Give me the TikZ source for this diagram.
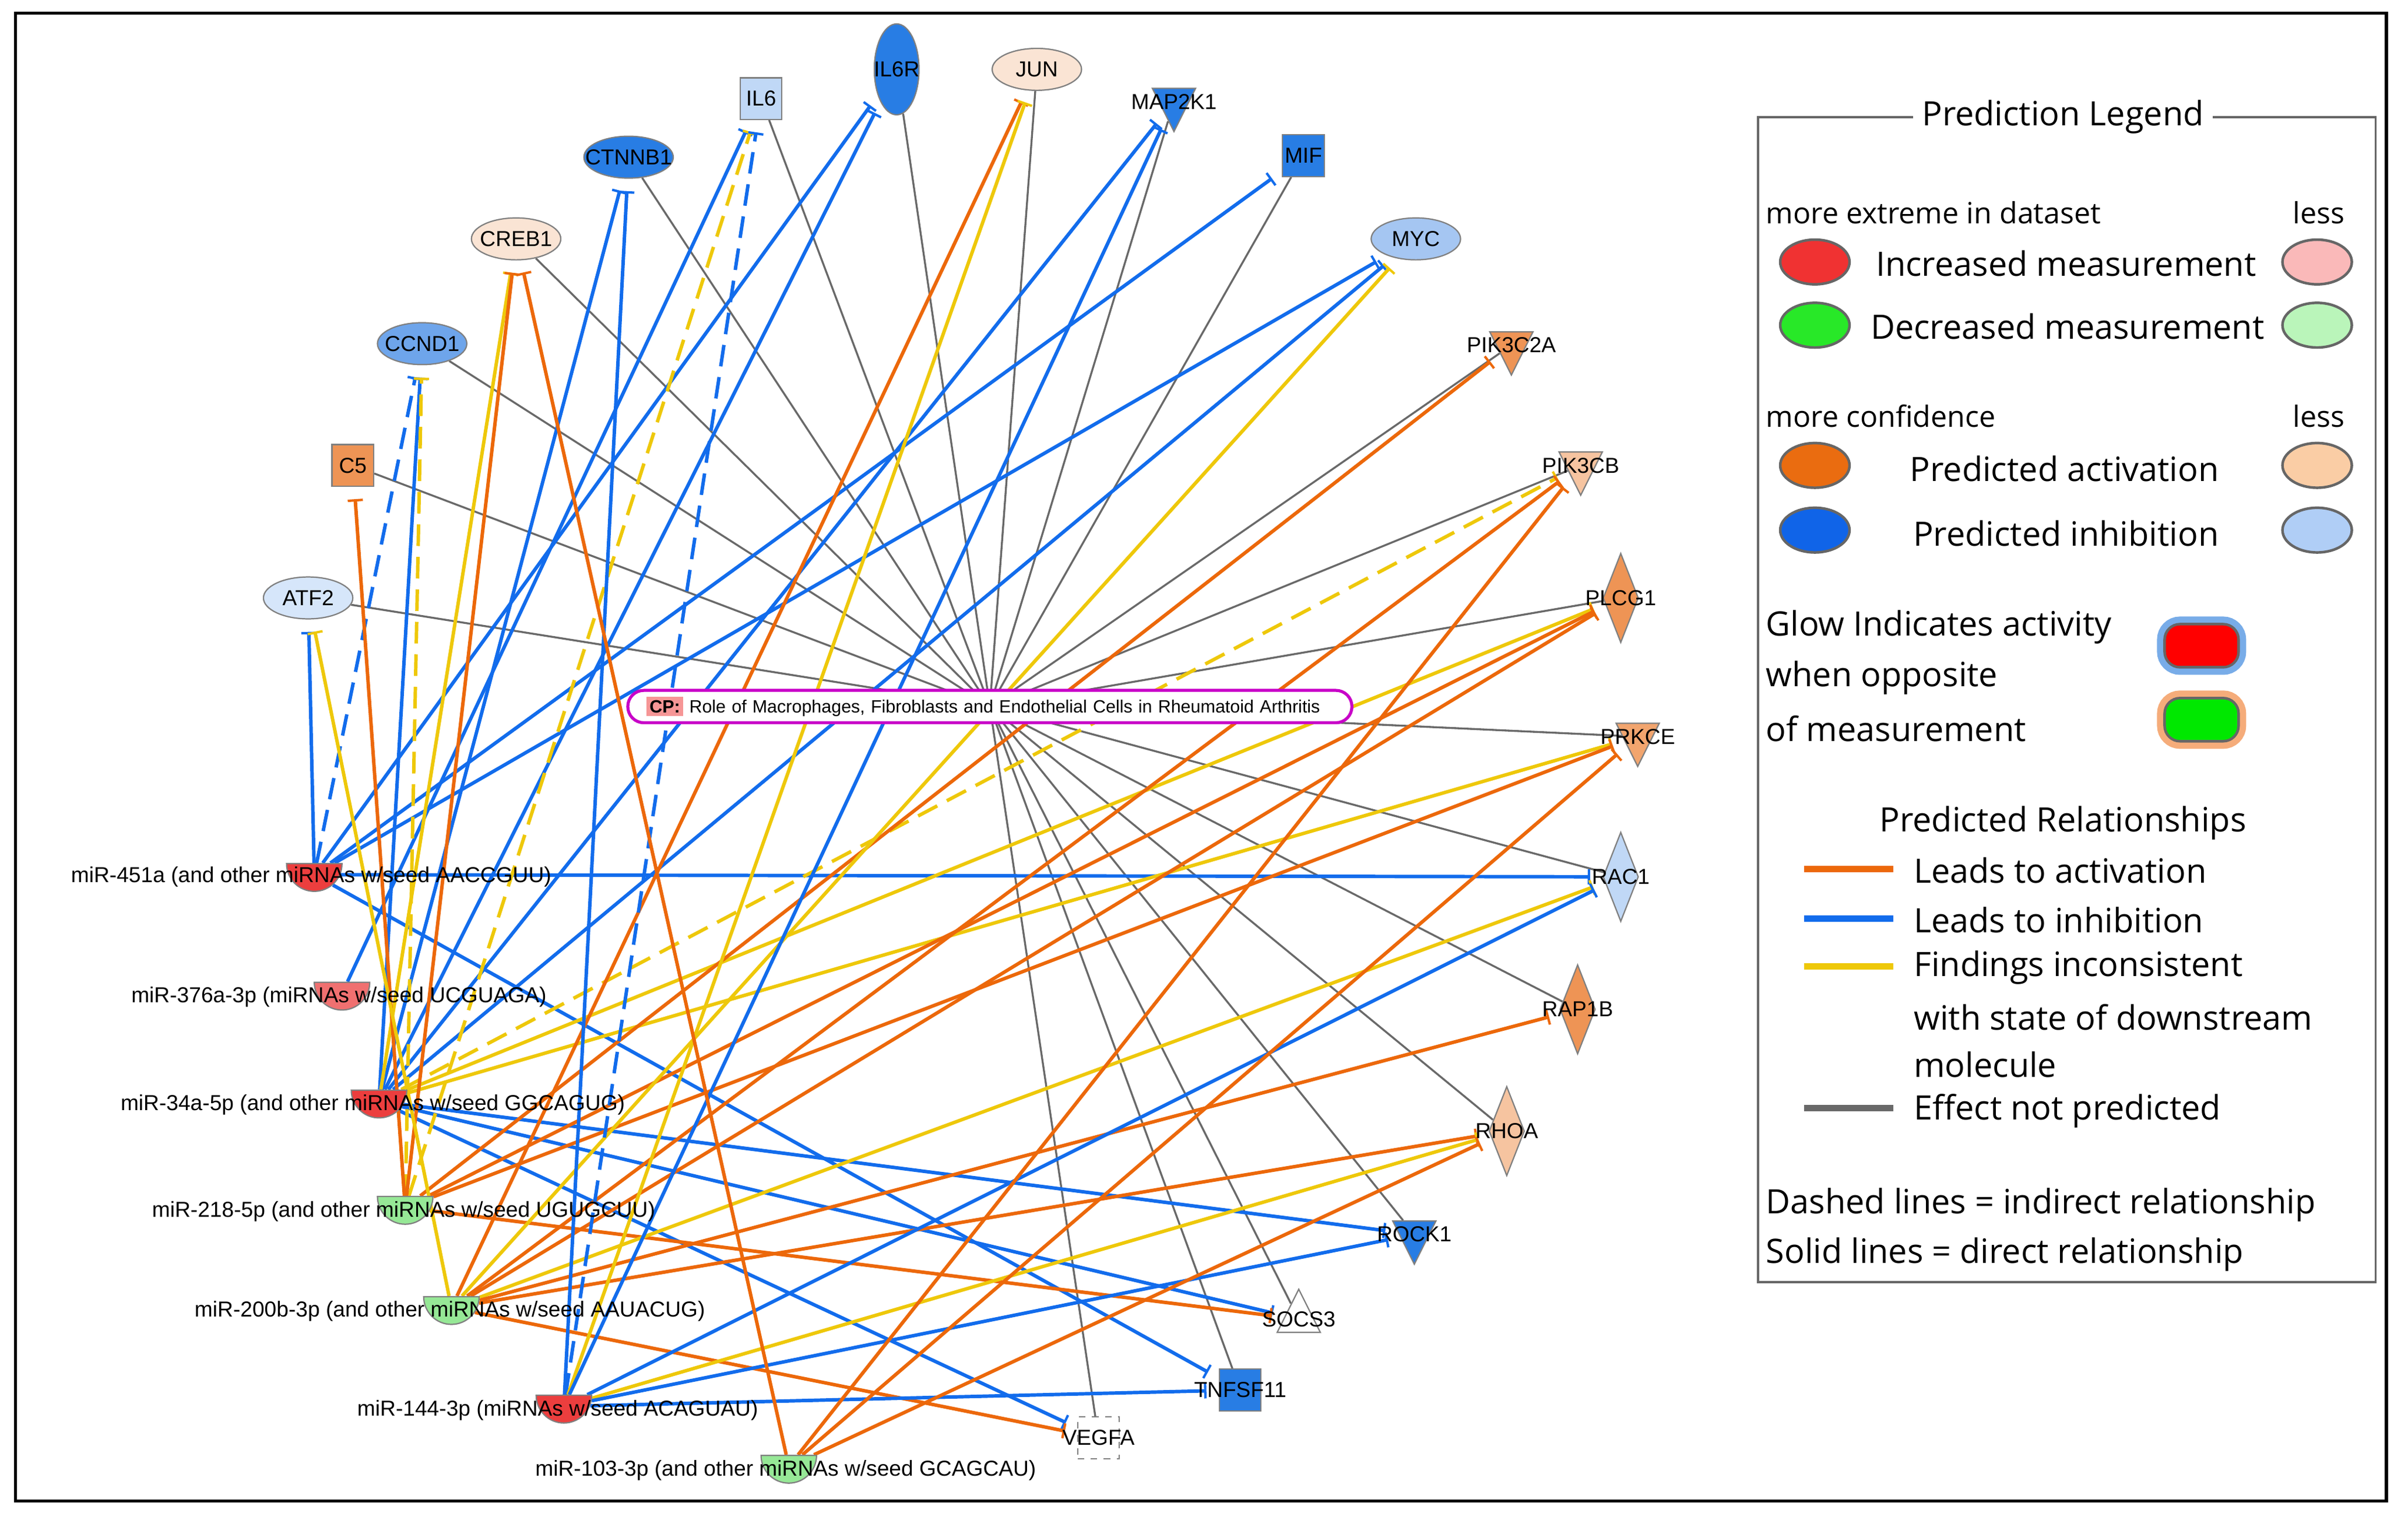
\documentclass[tikz,border=0pt]{standalone}
\usepackage{fontspec}
\setmainfont{Liberation Sans}
\newfontfamily\legfont{Open Sans}
\usetikzlibrary{shapes.geometric,arrows.meta,backgrounds}
\definecolor{actline}{RGB}{236,104,10}
\definecolor{inhline}{RGB}{18,108,236}
\definecolor{incline}{RGB}{238,200,10}
\definecolor{noline}{RGB}{105,105,105}
\definecolor{darkblue}{RGB}{40,125,228}
\definecolor{midblue}{RGB}{110,165,235}
\definecolor{paleblue}{RGB}{165,198,242}
\definecolor{lightblue}{RGB}{192,216,246}
\definecolor{iceblue}{RGB}{214,230,250}
\definecolor{darkorange}{RGB}{238,148,85}
\definecolor{midorange}{RGB}{242,165,110}
\definecolor{lightorange}{RGB}{246,196,160}
\definecolor{peach}{RGB}{250,228,212}
\definecolor{mirup}{RGB}{236,62,62}
\definecolor{mirpale}{RGB}{240,112,112}
\definecolor{mirdown}{RGB}{150,232,150}
\definecolor{cpmag}{RGB}{200,0,200}
\definecolor{cppink}{RGB}{246,150,150}

\tikzset{
  gene/.style={draw=gray, line width=0.6pt, inner sep=0pt,
    label={[font=\fontsize{10}{12}\selectfont]center:#1}},
  oval/.style={ellipse, minimum width=14.5mm, minimum height=6.8mm},
  tall/.style={ellipse, minimum width=7.25mm, minimum height=14.75mm},
  sq/.style={rectangle, minimum size=6.75mm},
  tridown/.style={isosceles triangle, isosceles triangle stretches, shape border rotate=-90, minimum width=7mm, minimum height=7mm},
  triup/.style={isosceles triangle, isosceles triangle stretches, shape border rotate=90, minimum width=7mm, minimum height=7mm},
  diam/.style={diamond, minimum width=5.75mm, minimum height=14.5mm},
  mirna/.style={semicircle, shape border rotate=180, anchor=chord center, draw=gray, line width=0.6pt, inner sep=0pt, minimum width=9mm, minimum height=0mm},
  mirtext/.style={inner sep=0pt, font=\fontsize{10}{12}\selectfont},
  cpbox/.style={draw=cpmag, line width=1.4pt, fill=white, rounded corners=2.6mm, minimum height=5.25mm, text width=111.5mm, align=left, inner xsep=3mm, inner ysep=0pt, font=\fontsize{8.2}{9.5}\selectfont},
  act/.style={draw=actline, line width=1.6pt, ->, >={Bar[width=7pt,line width=1.1pt]}, shorten >=2mm},
  inh/.style={draw=inhline, line width=1.6pt, ->, >={Bar[width=7pt,line width=1.1pt]}, shorten >=2mm},
  inc/.style={draw=incline, line width=1.6pt, ->, >={Bar[width=7pt,line width=1.1pt]}, shorten >=2mm},
  indirect/.style={dash pattern=on 10pt off 5pt},
  noeff/.style={draw=noline, line width=0.9pt},
  legtext/.style={inner sep=0pt, font=\legfont\fontsize{15.5}{18}\selectfont},
  legsmall/.style={inner sep=0pt, font=\legfont\fontsize{13.5}{16}\selectfont},
  legball/.style={ellipse, draw=gray!80!black, line width=1.2pt, minimum width=11.25mm, minimum height=7.25mm},
  legglow/.style={rectangle, rounded corners=2.5mm, draw=gray!80!black, line width=1.2pt, minimum width=12mm, minimum height=7mm},
  swatch/.style={line width=3pt}
}

\begin{document}
\begin{tikzpicture}[x=0.25mm,y=-0.25mm]
\useasboundingbox (0,0) rectangle (1563,986);
\draw [line width=1.5pt] (10,8.5) rectangle (1549,974);

% ring of target genes
\node[gene=ATF2, oval, fill=iceblue] (atf2) at (200,388) {};
\node[gene=C5, sq, fill=darkorange] (c5) at (229,302) {};
\node[gene=CCND1, oval, fill=midblue] (ccnd1) at (274,223) {};
\node[gene=CREB1, oval, fill=peach] (creb1) at (335,155) {};
\node[gene=CTNNB1, oval, fill=darkblue] (ctnnb1) at (408,102) {};
\node[gene=IL6, sq, fill=lightblue] (il6) at (494,64) {};
\node[gene=IL6R, tall, fill=darkblue] (il6r) at (582,45) {};
\node[gene=JUN, oval, fill=peach] (jun) at (673,45) {};
\node[gene=MAP2K1, tridown, fill=darkblue] (map2k1) at (762,66) {};
\node[gene=MIF, sq, fill=darkblue] (mif) at (846,101) {};
\node[gene=MYC, oval, fill=paleblue] (myc) at (919,155) {};
\node[gene=PIK3C2A, tridown, fill=darkorange] (pik3c2a) at (981,224) {};
\node[gene=PIK3CB, tridown, fill=lightorange] (pik3cb) at (1026,302) {};
\node[gene=PLCG1, diam, fill=darkorange] (plcg1) at (1052,388) {};
\node[gene=PRKCE, tridown, fill=midorange] (prkce) at (1063,478) {};
\node[gene=RAC1, diam, fill=lightblue] (rac1) at (1052,569) {};
\node[gene=RAP1B, diam, fill=darkorange] (rap1b) at (1024,655) {};
\node[gene=RHOA, diam, fill=lightorange] (rhoa) at (978,734) {};
\node[gene=ROCK1, tridown, fill=darkblue] (rock1) at (918,801) {};
\node[gene=SOCS3, triup, fill=white] (socs3) at (843,856) {};
\node[gene=TNFSF11, sq, fill=darkblue] (tnfsf11) at (805,902) {};
\node[gene=VEGFA, sq, fill=white, dashed] (vegfa) at (713,933) {};

% miRNAs
\node[mirna, fill=mirup] (m451) at (204,560) {};
\node[mirna, fill=mirpale] (m376) at (222,637) {};
\node[mirna, fill=mirup] (m34) at (246,707) {};
\node[mirna, fill=mirdown] (m218) at (263,776) {};
\node[mirna, fill=mirdown] (m200) at (293,841) {};
\node[mirna, fill=mirup] (m144) at (366,905) {};
\node[mirna, fill=mirdown] (m103) at (512,944) {};

% canonical pathway
\node[cpbox] (cp) at (642.5,458.5) {\setlength{\fboxsep}{1.5pt}\colorbox{cppink}{\textbf{CP:}}\ Role of Macrophages, Fibroblasts and Endothelial Cells in Rheumatoid Arthritis};

\begin{scope}[on background layer]
% pathway membership
\draw [noeff] (cp.center) -- (atf2);
\draw [noeff] (cp.center) -- (c5);
\draw [noeff] (cp.center) -- (ccnd1);
\draw [noeff] (cp.center) -- (creb1);
\draw [noeff] (cp.center) -- (ctnnb1);
\draw [noeff] (cp.center) -- (il6);
\draw [noeff] (cp.center) -- (il6r);
\draw [noeff] (cp.center) -- (jun);
\draw [noeff] (cp.center) -- (map2k1);
\draw [noeff] (cp.center) -- (mif);
\draw [noeff] (cp.center) -- (pik3c2a);
\draw [noeff] (cp.center) -- (pik3cb);
\draw [noeff] (cp.center) -- (plcg1);
\draw [noeff] (cp.center) -- (prkce);
\draw [noeff] (cp.center) -- (rac1);
\draw [noeff] (cp.center) -- (rap1b);
\draw [noeff] (cp.center) -- (rhoa);
\draw [noeff] (cp.center) -- (rock1);
\draw [noeff] (cp.center) -- (socs3);
\draw [noeff] (cp.center) -- (tnfsf11);
\draw [noeff] (cp.center) -- (vegfa);
% miR-451a
\draw [inh] (m451) -- (atf2);
\draw [inh, indirect] (m451) -- (ccnd1);
\draw [inh] (m451) -- (il6r);
\draw [inh] (m451) -- (mif);
\draw [inh] (m451) -- (myc);
\draw [inh] (m451) -- (rac1);
\draw [inh] (m451) -- (tnfsf11);
% miR-376a-3p
\draw [inh] (m376) -- (il6);
% miR-34a-5p
\draw [inh] (m34) -- (il6r);
\draw [inh] (m34) -- (ctnnb1);
\draw [inh] (m34) -- (ccnd1);
\draw [inc] (m34) -- (creb1);
\draw [inh] (m34) -- (map2k1);
\draw [inh] (m34) -- (myc);
\draw [inc, indirect] (m34) -- (pik3cb);
\draw [inc] (m34) -- (plcg1);
\draw [inc] (m34) -- (prkce);
\draw [inh] (m34) -- (rock1);
\draw [inh] (m34) -- (socs3);
\draw [inh] (m34) -- (vegfa);
% miR-218-5p
\draw [inc, indirect] (m218) -- (ccnd1);
\draw [inc, indirect] (m218) -- (il6);
\draw [act] (m218) -- (c5);
\draw [act] (m218) -- (creb1);
\draw [act] (m218) -- (pik3c2a);
\draw [act] (m218) -- (plcg1);
\draw [act] (m218) -- (prkce);
\draw [act] (m218) -- (socs3);
% miR-200b-3p
\draw [inc] (m200) -- (atf2);
\draw [inc] (m200) -- (myc);
\draw [act] (m200) -- (jun);
\draw [act] (m200) -- (pik3cb);
\draw [act] (m200) -- (plcg1);
\draw [inc] (m200) -- (rac1);
\draw [act] (m200) -- (rap1b);
\draw [act] (m200) -- (rhoa);
\draw [act] (m200) -- (vegfa);
% miR-144-3p
\draw [inh] (m144) -- (ctnnb1);
\draw [inh, indirect] (m144) -- (il6);
\draw [inc] (m144) -- (jun);
\draw [inh] (m144) -- (map2k1);
\draw [inh] (m144) -- (rac1);
\draw [inc] (m144) -- (rhoa);
\draw [inh] (m144) -- (rock1);
\draw [inh] (m144) -- (tnfsf11);
% miR-103-3p
\draw [act] (m103) -- (creb1);
\draw [act] (m103) -- (pik3cb);
\draw [act] (m103) -- (prkce);
\draw [act] (m103) -- (rhoa);
\end{scope}

\node[mirtext] (m451t) at (202,569) {miR-451a (and other miRNAs w/seed AACCGUU)};
\node[mirtext] (m376t) at (220,647) {miR-376a-3p (miRNAs w/seed UCGUAGA)};
\node[mirtext] (m34t) at (242,717) {miR-34a-5p (and other miRNAs w/seed GGCAGUG)};
\node[mirtext] (m218t) at (262,786) {miR-218-5p (and other miRNAs w/seed UGUGCUU)};
\node[mirtext] (m200t) at (292,851) {miR-200b-3p (and other miRNAs w/seed AAUACUG)};
\node[mirtext] (m144t) at (362,915) {miR-144-3p (miRNAs w/seed ACAGUAU)};
\node[mirtext] (m103t) at (510,954) {miR-103-3p (and other miRNAs w/seed GCAGCAU)};

% legend
\draw [draw=gray!80!black, line width=1pt] (1141,76) rectangle (1542,832);
\node[legtext, fill=white, inner xsep=4pt] (legtitle) at (1339,76) {Prediction Legend};
\node[legsmall, anchor=west] (extreme) at (1146,138) {more extreme in dataset};
\node[legsmall] (less1) at (1505,138) {less};
\node[legball, fill={rgb,255:red,240;green,50;blue,50}] (upball) at (1178,170) {};
\node[legball, fill={rgb,255:red,250;green,185;blue,185}] (upballl) at (1504,170) {};
\node[legtext] (uptext) at (1341,171) {Increased measurement};
\node[legball, fill={rgb,255:red,40;green,232;blue,40}] (dnball) at (1178,211) {};
\node[legball, fill={rgb,255:red,186;green,245;blue,186}] (dnballl) at (1504,211) {};
\node[legtext] (dntext) at (1342,212) {Decreased measurement};
\node[legsmall, anchor=west] (confid) at (1146,270) {more confidence};
\node[legsmall] (less2) at (1505,270) {less};
\node[legball, fill={rgb,255:red,234;green,108;blue,16}] (actball) at (1178,302) {};
\node[legball, fill={rgb,255:red,250;green,205;blue,165}] (actballl) at (1504,302) {};
\node[legtext] (acttext) at (1340,304) {Predicted activation};
\node[legball, fill={rgb,255:red,16;green,100;blue,232}] (inhball) at (1178,344) {};
\node[legball, fill={rgb,255:red,176;green,206;blue,246}] (inhballl) at (1504,344) {};
\node[legtext] (inhtext) at (1341,346) {Predicted inhibition};
\node[legtext, anchor=west] (glow1) at (1146,407) {Glow Indicates activity};
\node[legtext, anchor=west] (glow2) at (1146,440) {when opposite};
\node[legtext, anchor=west] (glow3) at (1146,473) {of measurement};
\node[legglow, fill=red, preaction={draw={rgb,255:red,120;green,172;blue,232}, line width=7pt}] (glowred) at (1429,419) {};
\node[legglow, fill={rgb,255:red,0;green,232;blue,0}, preaction={draw={rgb,255:red,245;green,172;blue,122}, line width=7pt}] (glowgreen) at (1429,467) {};
\node[legtext] (reltitle) at (1339,534) {Predicted Relationships};
\draw [swatch, actline] (1171,564) -- (1229,564);
\draw [swatch, inhline] (1171,596) -- (1229,596);
\draw [swatch, incline] (1171,627) -- (1229,627);
\draw [swatch, noline] (1171,719) -- (1229,719);
\node[legtext, anchor=west] (relact) at (1242,565) {Leads to activation};
\node[legtext, anchor=west] (relinh) at (1242,597) {Leads to inhibition};
\node[legtext, anchor=west] (relinc) at (1242,628) {Findings inconsistent};
\node[legtext, anchor=west] (relinc2) at (1242,660) {with state of downstream};
\node[legtext, anchor=west] (relinc3) at (1242,691) {molecule};
\node[legtext, anchor=west] (relnone) at (1242,721) {Effect not predicted};
\node[legtext, anchor=west] (dashnote) at (1146,782) {Dashed lines = indirect relationship};
\node[legtext, anchor=west] (solidnote) at (1146,814) {Solid lines = direct relationship};
\end{tikzpicture}
\end{document}
